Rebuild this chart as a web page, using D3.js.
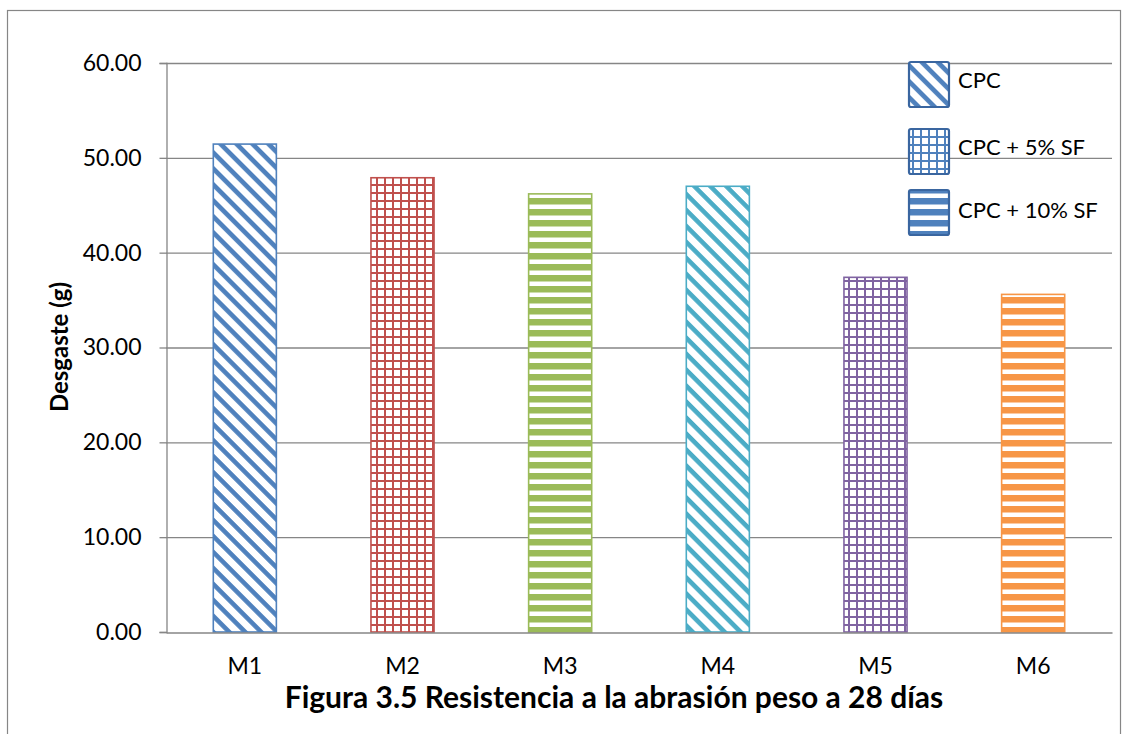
<!DOCTYPE html>
<html><head><meta charset="utf-8">
<script src="https://cdn.jsdelivr.net/npm/d3@7"></script>
<style>body{margin:0;background:#fff;} svg{display:block;font-family:Lato,"Noto Sans",sans-serif;}</style>
</head><body>
<svg id="c" width="1128" height="734"></svg>
<script>
const categories = ["M1","M2","M3","M4","M5","M6"];
const values = [51.45, 47.9, 46.2, 47.0, 37.4, 35.6];
const colors = ["#4F81BD","#C0504D","#9BBB59","#4BACC6","#8064A2","#F79646"];
const patterns = ["diag","grid","horiz","diag","grid","horiz"];
const yTicks = [0,10,20,30,40,50,60];
const legendLabels = ["CPC","CPC + 5% SF","CPC + 10% SF"];
const legendPatterns = ["diag","grid","horiz"];
const legendColor = "#4F81BD";
const title = "Figura 3.5 Resistencia a la abrasión peso a 28 días";
const yTitle = "Desgaste (g)";

const svg = d3.select("#c");
const defs = svg.append("defs");
function makePattern(id, type, color){
  if(type==="diag"){
    const p = defs.append("pattern").attr("id",id).attr("patternUnits","userSpaceOnUse")
      .attr("width",11.3).attr("height",11.3).attr("patternTransform","rotate(45)");
    p.append("rect").attr("width",11.3).attr("height",11.3).attr("fill","#fff");
    p.append("rect").attr("y",0).attr("width",11.3).attr("height",4.6).attr("fill",color);
  } else if(type==="grid"){
    const p = defs.append("pattern").attr("id",id).attr("patternUnits","userSpaceOnUse")
      .attr("width",8).attr("height",8);
    p.append("rect").attr("width",8).attr("height",8).attr("fill","#fff");
    p.append("rect").attr("x",0).attr("width",2).attr("height",8).attr("fill",color);
    p.append("rect").attr("y",0).attr("width",8).attr("height",2).attr("fill",color);
  } else {
    const p = defs.append("pattern").attr("id",id).attr("patternUnits","userSpaceOnUse")
      .attr("width",11).attr("height",11);
    p.append("rect").attr("width",11).attr("height",11).attr("fill","#fff");
    p.append("rect").attr("y",0).attr("width",11).attr("height",6.5).attr("fill",color);
  }
}
categories.forEach((c,i)=>makePattern("p"+i, patterns[i], colors[i]));
legendPatterns.forEach((t,i)=>makePattern("lp"+i, t, legendColor));

// outer frame
svg.append("rect").attr("x",7.5).attr("y",10.5).attr("width",1113).attr("height",740)
  .attr("fill","none").attr("stroke","#868686").attr("stroke-width",1.2);

const m = {left:166, right:1112, top:63, bottom:632};
const x = d3.scaleBand().domain(categories).range([m.left,m.right]).paddingInner(0.6).paddingOuter(0.3);
const y = d3.scaleLinear().domain([0,60]).range([m.bottom,m.top]);

// gridlines
svg.append("g").selectAll("line").data(yTicks.filter(d=>d>0)).join("line")
  .attr("x1",m.left).attr("x2",m.right).attr("y1",d=>y(d)+0.5).attr("y2",d=>y(d)+0.5)
  .attr("stroke","#868686").attr("stroke-width",1.3);

// bars
svg.append("g").selectAll("rect").data(values).join("rect")
  .attr("x",(d,i)=>x(categories[i])).attr("width",x.bandwidth())
  .attr("y",d=>y(d)).attr("height",d=>y(0)-y(d))
  .attr("fill",(d,i)=>"url(#p"+i+")").attr("stroke",(d,i)=>colors[i]).attr("stroke-width",1.6);

// y axis
const yAxis = d3.axisLeft(y).tickValues(yTicks).tickFormat(d3.format(".2f")).tickSize(7).tickPadding(18);
const gy = svg.append("g").attr("transform",`translate(${m.left+0.5},0)`).call(yAxis);
gy.attr("font-size",23).attr("font-family","Lato,'Noto Sans',sans-serif");
gy.select(".domain").attr("stroke","#868686").attr("stroke-width",1.3);
gy.selectAll(".tick line").attr("stroke","#868686").attr("stroke-width",1.3);
gy.selectAll(".tick text").attr("fill","#000");

// x axis
const xAxis = d3.axisBottom(x).tickSize(0).tickPadding(25);
const gx = svg.append("g").attr("transform",`translate(0,${m.bottom+0.5})`).call(xAxis);
gx.attr("font-size",23).attr("font-family","Lato,'Noto Sans',sans-serif");
gx.select(".domain").attr("stroke","#868686").attr("stroke-width",1.3);
gx.selectAll(".tick text").attr("fill","#000");

// titles
svg.append("text").attr("x",614).attr("y",708).attr("text-anchor","middle")
  .attr("font-size",30).attr("font-weight","bold").text(title);
svg.append("text").attr("transform","translate(68,347) rotate(-90)").attr("text-anchor","middle")
  .attr("font-size",24).attr("font-weight","bold").text(yTitle);

// legend
const lg = svg.append("g");
const legendY = [62,129,190];
const legendBase = [88,155,218];
legendLabels.forEach((l,i)=>{
  lg.append("rect").attr("x",909).attr("y",legendY[i]).attr("width",40).attr("height",45).attr("rx",2)
    .attr("fill","url(#lp"+i+")").attr("stroke","#3A66A0").attr("stroke-width",2.2);
  lg.append("text").attr("x",958).attr("y",legendBase[i]).attr("font-size",22).attr("fill","#000").text(l);
});
</script>
</body></html>
